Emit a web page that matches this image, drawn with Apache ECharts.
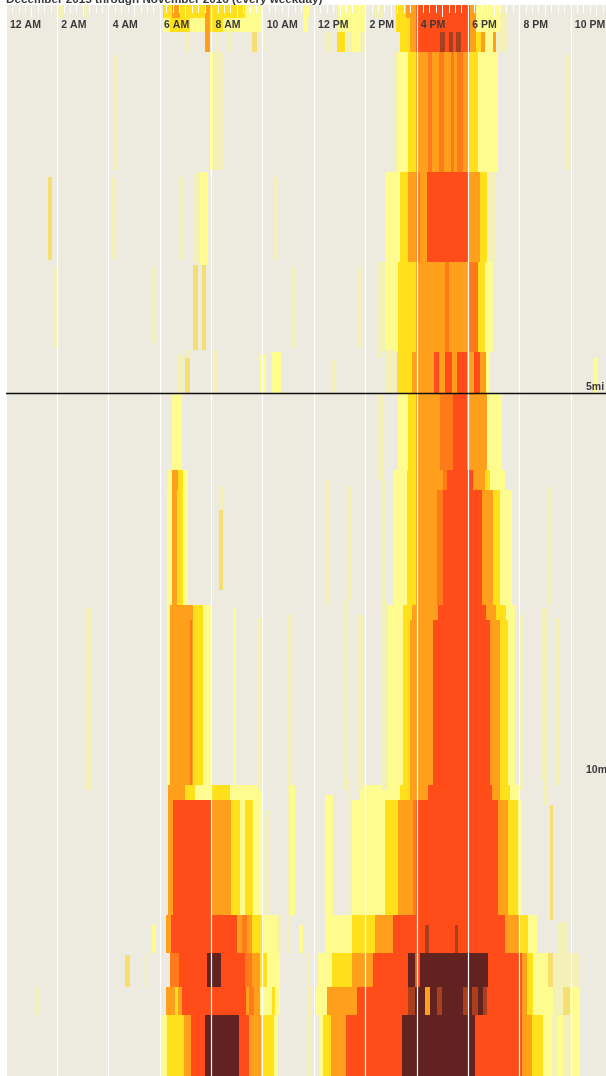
<!DOCTYPE html>
<html><head><meta charset="utf-8">
<style>html,body{margin:0;padding:0;background:#fff;overflow:hidden}#c{width:606px;height:1076px;filter:blur(0.65px)}</style>
<script src="https://cdn.jsdelivr.net/npm/echarts@6/dist/echarts.min.js"></script>
</head><body><div id="c"></div>
<script>
const titleText = 'December 2015 through November 2016 (every weekday)';
const hourLabels = ['12 AM','2 AM','4 AM','6 AM','8 AM','10 AM','12 PM','2 PM','4 PM','6 PM','8 PM','10 PM'];
const mileTicks = [5, 10];
// severity levels
const palette = [null,'#F3F0B8','#FEFC8F','#F5DF70','#FFE01A','#FF9F1C','#FF7A1A','#FF4C18','#622320','#A93F1E'];
// each row: road stretch in miles, then runs of [fromHour, toHour, level]
const rowA1 = [[2.03,2.22,1],[3.00,3.16,1],[6.12,6.47,4],[6.47,6.78,5],[6.78,7.75,4],[7.75,7.95,5],[7.95,9.31,4],[9.31,9.97,2],[11.57,11.84,2],[12.93,13.99,2],[14.30,14.69,1],[15.19,15.58,4],[15.58,15.97,5],[15.97,18.08,7],[18.08,18.31,5],[18.31,19.24,2],[19.24,19.56,1]];
const rowA2 = [[6.12,6.39,2],[6.39,7.17,4],[7.17,7.75,2],[7.75,7.95,5],[7.95,8.45,4],[8.45,9.97,2],[11.57,11.76,2],[12.93,13.99,2],[15.19,15.74,4],[15.74,15.97,5],[15.97,18.08,7],[18.08,18.31,5],[18.31,19.24,2],[19.24,19.56,1]];
const rowA3 = [[6.97,7.17,1],[7.75,7.95,5],[8.14,8.26,1],[8.65,8.80,1],[9.58,9.78,3],[9.97,10.09,1],[12.43,12.70,1],[12.89,13.21,4],[13.21,13.48,1],[13.48,13.79,2],[13.79,13.99,1],[15.35,15.74,4],[15.74,15.97,5],[15.97,16.91,7],[16.91,17.10,9],[17.10,17.26,7],[17.26,17.41,9],[17.41,17.53,7],[17.53,17.72,9],[17.72,18.08,7],[18.08,18.31,5],[18.31,18.50,4],[18.50,18.66,5],[18.66,18.97,2],[18.97,19.09,5],[19.17,19.56,1]];
const rowB = [[15.08,15.27,1],[15.27,15.66,2],[15.66,15.97,4],[15.97,16.44,5],[16.44,16.60,6],[16.60,16.87,5],[16.87,17.06,6],[17.06,17.34,5],[17.34,17.45,6],[17.45,17.57,5],[17.57,17.80,6],[17.80,18.04,5],[18.04,18.39,4],[18.39,19.17,2]];
const rowC = [[14.76,15.35,2],[15.35,15.66,4],[15.66,15.97,5],[15.97,16.13,6],[16.13,16.40,5],[16.40,18.00,7],[18.00,18.46,5],[18.46,18.74,4],[18.74,19.05,1]];
const rowD = [[14.49,14.76,1],[14.76,15.27,2],[15.27,15.97,4],[15.97,17.10,5],[17.10,17.26,6],[17.26,18.00,5],[18.00,18.39,6],[18.39,18.66,4],[18.66,18.97,2]];
const rowE = [[15.23,15.82,4],[15.82,16.67,5],[16.67,16.87,7],[16.87,17.10,5],[17.10,17.37,7],[17.37,17.57,5],[17.57,17.96,7],[17.96,18.23,5],[18.23,18.46,7],[18.46,18.70,5],[18.70,18.85,2]];
const rowF = [[6.47,6.86,2],[15.27,15.66,2],[15.66,15.97,4],[15.97,16.91,5],[16.91,17.41,6],[17.41,17.96,7],[17.96,18.74,5],[18.74,19.32,2]];
const rowG1 = [[6.31,6.47,2],[6.47,6.70,5],[6.70,6.90,4],[6.90,7.09,2],[15.08,15.62,2],[15.62,15.97,4],[15.97,17.02,5],[17.02,17.18,6],[17.18,18.19,7],[18.19,18.66,5],[18.66,18.85,4],[18.85,19.44,2]];
const rowG2 = [[6.27,6.47,2],[6.47,6.66,5],[6.66,6.90,4],[6.90,7.09,2],[15.08,15.62,2],[15.62,15.97,4],[15.97,16.79,5],[16.79,17.02,6],[17.02,18.54,7],[18.54,18.97,5],[18.97,19.24,4],[19.24,19.71,2]];
const rowH0 = [[6.27,6.39,2],[6.39,7.28,5],[7.28,7.67,4],[7.67,8.02,2],[14.88,15.47,2],[15.47,15.82,4],[15.82,16.83,5],[16.83,18.70,7],[18.70,19.09,5],[19.09,19.48,4],[19.48,19.83,2]];
const rowH = [[6.27,6.39,2],[6.39,7.17,5],[7.17,7.25,6],[7.25,7.28,5],[7.28,7.67,4],[7.67,8.02,2],[14.88,15.47,2],[15.47,15.74,4],[15.74,16.63,5],[16.63,18.85,7],[18.85,19.24,5],[19.24,19.56,4],[19.56,19.83,2]];
const rowI0 = [[6.31,6.97,5],[6.97,7.36,4],[7.36,8.02,2],[8.02,8.73,4],[8.73,9.97,2],[13.79,15.35,2],[15.35,15.74,4],[15.74,16.44,5],[16.44,18.93,7],[18.93,19.24,5],[19.24,19.63,4],[19.63,20.02,2]];
const rowI = [[6.31,6.51,5],[6.51,8.02,7],[8.02,8.77,5],[8.77,9.12,4],[9.12,9.31,2],[9.31,9.62,4],[9.62,9.97,2],[13.48,14.76,2],[14.76,15.27,4],[15.27,15.85,5],[15.85,15.97,6],[15.97,19.17,7],[19.17,19.56,5],[19.56,19.95,4],[19.95,20.10,2]];
const rowJ = [[6.23,6.43,5],[6.43,9.00,7],[9.00,9.19,5],[9.19,9.39,6],[9.39,9.58,5],[9.58,9.97,4],[10.05,10.56,2],[12.43,13.48,2],[13.48,14.37,4],[14.37,15.08,5],[15.08,19.44,7],[19.44,20.02,5],[20.02,20.33,4],[20.33,20.68,2]];
const rowK = [[6.39,6.74,6],[6.74,7.83,7],[7.83,8.37,8],[8.37,9.31,7],[9.31,9.58,6],[9.58,9.89,5],[9.89,10.17,4],[10.17,10.67,2],[12.15,12.70,2],[12.70,13.48,4],[13.48,14.30,5],[14.30,15.66,7],[15.66,15.93,8],[15.93,16.13,7],[16.13,18.78,8],[18.78,20.10,7],[20.10,20.30,5],[20.30,20.53,4],[20.53,21.11,2],[21.11,21.31,3],[21.31,22.36,1]];
const rowL = [[6.23,6.58,5],[6.58,6.70,4],[6.70,6.86,5],[6.86,9.35,7],[9.35,9.47,5],[9.47,9.66,6],[9.66,9.89,5],[9.89,10.36,2],[10.36,10.48,4],[10.48,10.67,2],[12.08,12.50,2],[12.50,13.67,5],[13.67,15.66,7],[15.66,15.93,9],[15.93,16.32,8],[16.32,16.52,5],[16.52,16.79,8],[16.79,16.98,9],[16.98,17.80,8],[17.80,18.00,9],[18.00,18.15,8],[18.15,18.39,9],[18.39,18.58,8],[18.58,18.74,9],[18.74,20.10,7],[20.10,20.30,5],[20.30,20.53,4],[20.53,21.31,2],[21.31,21.70,1],[21.70,21.97,3],[21.97,22.36,2]];
const rowM = [[6.08,6.27,2],[6.27,6.93,4],[6.93,7.21,5],[7.21,7.75,7],[7.75,9.08,8],[9.08,9.47,7],[9.47,9.93,5],[9.93,10.44,4],[10.44,10.60,2],[12.23,12.35,2],[12.35,12.66,4],[12.66,13.25,5],[13.25,15.43,7],[15.43,18.27,8],[18.27,20.10,7],[20.10,20.49,5],[20.49,20.92,4],[20.92,21.27,2],[21.27,21.47,1],[21.47,21.70,2],[21.70,22.05,1],[22.05,22.36,2]];
const rowList = [
 [-0.065,0.10,rowA1],[0.10,0.29,rowA2],[0.29,0.55,rowA3],[0.55,2.115,rowB],[2.115,3.29,rowC],[3.29,4.465,rowD],[4.465,5.0,rowE],
 [5.0,6.005,rowF],[6.005,6.27,rowG1],[6.27,7.77,rowG2],[7.77,7.96,rowH0],[7.96,10.12,rowH],[10.12,10.31,rowI0],[10.31,11.81,rowI],
 [11.81,12.31,rowJ],[12.31,12.75,rowK],[12.75,13.12,rowL],[13.12,13.92,rowM]];
// short isolated slowdowns: [fromHour, toHour, fromMile, toMile, level]
const streaks = [
 [4.17,4.36,0.59,2.09,1],[7.95,8.06,0.55,2.09,2],[8.06,8.45,0.55,2.09,1],[21.78,21.97,0.59,2.09,1],
 [1.64,1.79,2.18,3.26,3],[4.13,4.29,2.18,3.26,1],[6.78,6.93,2.18,3.26,1],[7.28,7.56,2.13,3.30,1],[7.56,7.87,2.11,3.33,2],[10.44,10.60,2.18,3.26,1],
 [1.87,2.03,3.355,4.41,1],[5.69,5.84,3.355,4.35,1],[7.28,7.48,3.33,4.44,3],[7.63,7.79,3.33,4.44,3],[11.14,11.30,3.355,4.41,1],[13.71,13.87,3.355,4.41,1],
 [6.70,6.89,4.50,5,1],[6.97,7.17,4.44,4.54,1],[6.97,7.17,4.54,5,3],[8.06,8.22,4.44,5,1],[9.89,10.13,4.49,5,2],[10.36,10.71,4.47,5,2],[12.70,12.86,4.57,5,1],[14.49,14.65,4.31,4.54,1],[14.76,15.15,4.44,5,1],[22.87,23.06,4.54,5,2],
 [14.50,14.70,5.03,6.14,1],[14.65,14.80,6.14,7.70,1],[8.34,8.45,6.23,6.53,1],[8.30,8.45,6.53,7.57,3],[12.43,12.58,6.14,7.77,1],[13.32,13.48,6.23,7.70,1],[21.11,21.27,6.23,7.77,1],
 [3.12,3.31,7.81,10.18,1],[8.84,8.96,7.81,10.12,2],[9.78,9.97,7.94,10.18,1],[10.99,11.10,7.90,10.18,1],[13.13,13.28,7.70,10.18,1],[13.71,13.95,7.90,10.18,1],[14.65,14.88,7.70,10.18,1],[20.02,20.14,7.90,10.18,1],[20.88,21.11,7.81,10.05,1],[21.39,21.54,7.94,10.12,1],
 [10.13,10.25,10.44,11.81,1],[10.95,11.07,10.10,11.81,1],[11.07,11.26,10.12,11.81,2],[12.43,12.74,10.25,11.81,2],[13.28,13.40,10.05,11.81,1],[21.19,21.31,10.38,11.81,3],[20.92,21.11,10.05,10.38,1],
 [10.56,10.75,11.81,12.31,1],[10.95,11.07,11.81,12.31,1],[11.41,11.57,11.95,12.31,2],[5.69,5.84,11.95,12.31,2],[21.19,21.31,11.62,11.88,3],[21.50,21.85,11.90,12.31,1],
 [16.32,16.48,11.95,12.31,9],[17.49,17.61,11.95,12.31,9],
 [4.64,4.83,12.34,12.75,3],[5.41,5.53,12.34,12.75,1],[11.72,11.84,12.31,12.75,1],[1.13,1.32,12.75,13.12,1],[11.72,11.92,12.75,13.92,1]
];
const cells = [];
rowList.forEach(([m0,m1,runs]) => runs.forEach(([h0,h1,l]) => cells.push([h0,h1,m0,m1,l])));
streaks.forEach(s => cells.push(s));

const chart = echarts.init(document.getElementById('c'), null, {renderer:'canvas'});
const labelFont = {fontFamily:'"Liberation Sans",Arial,sans-serif',fontWeight:'bold',fontSize:10.5,color:'#3a3a3a'};
chart.setOption({
 animation:false,
 backgroundColor:'#fff',
 title:{text:titleText,left:6,top:-6,padding:0,textStyle:{fontFamily:'"Liberation Sans",Arial,sans-serif',fontWeight:'bold',fontSize:11.7,color:'#3a3a3a'}},
 grid:{left:6,top:5,right:0,bottom:0,outerBoundsMode:'none',show:true,backgroundColor:'#EDEBE0',borderWidth:0},
 xAxis:[
  {type:'value',position:'top',min:0,max:23.37,interval:2,z:5,
   axisLine:{show:false},axisTick:{show:false},
   splitLine:{show:true,showMaxLine:false,lineStyle:{color:'#fff',width:1.2}},
   axisLabel:{...labelFont,inside:true,margin:15,align:'left',padding:[0,0,0,4],showMaxLabel:false,verticalAlign:'top',
     formatter:v=>hourLabels[v/2]||''}},
  {type:'value',position:'top',min:0,max:23.37,interval:1,z:5,
   axisLine:{show:false},axisLabel:{show:false},splitLine:{show:false},
   axisTick:{show:true,inside:true,length:12,lineStyle:{color:'#fff',width:1}},
   minorTick:{show:true,splitNumber:4,length:8,lineStyle:{color:'#fff',width:1}}}
 ],
 yAxis:{type:'value',inverse:true,position:'right',min:-0.065,max:13.916,z:5,
  axisLine:{show:false},axisTick:{show:false},splitLine:{show:false},
  axisLabel:{...labelFont,inside:true,margin:20,align:'left',verticalAlign:'bottom',customValues:mileTicks,formatter:v=>v+'mi'}},
 series:[{
  type:'custom',xAxisIndex:0,yAxisIndex:0,silent:true,clip:false,z:2,
  encode:{x:[0,1],y:[2,3]},
  data:cells,
  renderItem:(p,api)=>{
   const a=api.coord([api.value(0),api.value(2)]), b=api.coord([api.value(1),api.value(3)]);
   const x=Math.round(a[0]),y=Math.round(a[1]);
   return {type:'rect',shape:{x,y,width:Math.max(1,Math.round(b[0])-x),height:Math.round(b[1])-y},style:{fill:palette[api.value(4)]}};
  },
  markLine:{silent:true,symbol:'none',z:8,label:{show:false},lineStyle:{color:'#111',width:1.3,type:'solid'},data:[{yAxis:mileTicks[0]}]}
 }]
});
</script></body></html>
